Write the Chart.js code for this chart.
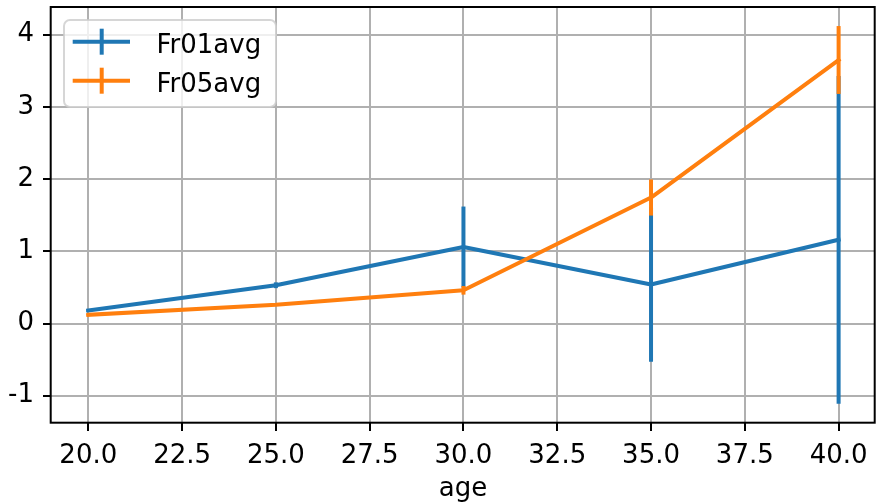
<!DOCTYPE html>
<html>
<head>
<meta charset="utf-8">
<script src="https://cdn.jsdelivr.net/npm/chart.js@4"></script>
<style>
  html, body { margin: 0; padding: 0; background: #ffffff; }
  canvas { display: block; }
</style>
</head>
<body>
<canvas id="c" width="876" height="503"></canvas>
<script>
// ---- data ----
const ages = [20, 25, 30, 35, 40];
const fr01Values = [0.18, 0.53, 1.06, 0.54, 1.16];
const fr01Errors = [0.02, 0.04, 0.56, 1.07, 2.27];
const fr05Values = [0.12, 0.26, 0.46, 1.745, 3.65];
const fr05Errors = [0.01, 0.01, 0.06, 0.25, 0.47];
const xTickValues = [20, 22.5, 25, 27.5, 30, 32.5, 35, 37.5, 40];
const yTickValues = [-1, 0, 1, 2, 3, 4];
const seriesNames = ['Fr01avg', 'Fr05avg'];
const xTitle = 'age';

const BLUE = '#1f77b4';
const ORANGE = '#ff7f0e';
const FONT = '"DejaVu Sans", sans-serif';
const FS = 26;

function toPoints(xs, ys) { return xs.map((x, i) => ({ x: x, y: ys[i] })); }

const errorsByDataset = [fr01Errors, fr05Errors];

const errorBarPlugin = {
  id: 'errorBars',
  afterDatasetDraw(chart, args) {
    const errs = errorsByDataset[args.index];
    if (!errs) return;
    const ds = chart.data.datasets[args.index];
    const xs = chart.scales.x, ys = chart.scales.y;
    const ctx = chart.ctx, ca = chart.chartArea;
    ctx.save();
    ctx.beginPath();
    ctx.rect(ca.left, ca.top, ca.right - ca.left, ca.bottom - ca.top);
    ctx.clip();
    ctx.strokeStyle = ds.borderColor;
    ctx.lineWidth = 4;
    ctx.lineCap = 'butt';
    ds.data.forEach((p, i) => {
      const px = xs.getPixelForValue(p.x);
      const y1 = ys.getPixelForValue(p.y - errs[i]);
      const y2 = ys.getPixelForValue(p.y + errs[i]);
      ctx.beginPath();
      ctx.moveTo(px, y1);
      ctx.lineTo(px, y2);
      ctx.stroke();
    });
    ctx.restore();
  }
};

const framePlugin = {
  id: 'frameAndLegend',
  afterDraw(chart) {
    const ctx = chart.ctx, ca = chart.chartArea;
    ctx.save();
    // spines
    ctx.strokeStyle = '#000000';
    ctx.lineWidth = 2;
    ctx.strokeRect(ca.left - 0.3, ca.top, ca.right - ca.left, ca.bottom - ca.top - 0.3);
    // legend box
    const bx = 64, by = 20, bw = 212, bh = 87, r = 6;
    ctx.beginPath();
    ctx.roundRect(bx, by, bw, bh, r);
    ctx.fillStyle = 'rgba(255,255,255,0.8)';
    ctx.fill();
    ctx.strokeStyle = 'rgba(204,204,204,0.8)';
    ctx.lineWidth = 2;
    ctx.stroke();
    const rows = [41.7, 80.7];
    const baselines = [53.3, 92.2];
    chart.data.datasets.forEach((ds, i) => {
      const cy = rows[i];
      ctx.strokeStyle = ds.borderColor;
      ctx.lineWidth = 4;
      ctx.lineCap = 'butt';
      ctx.beginPath();
      ctx.moveTo(72.7, cy);
      ctx.lineTo(130, cy);
      ctx.stroke();
      ctx.beginPath();
      ctx.moveTo(101.7, cy - 13);
      ctx.lineTo(101.7, cy + 13);
      ctx.stroke();
      ctx.fillStyle = '#000000';
      ctx.font = FS + 'px ' + FONT;
      ctx.textAlign = 'left';
      ctx.textBaseline = 'alphabetic';
      ctx.fillText(ds.label, 156.5, baselines[i]);
    });
    ctx.restore();
  }
};

function noScalePadding(scale) {
  scale.paddingTop = 0;
  scale.paddingBottom = 0;
  scale.paddingLeft = 0;
  scale.paddingRight = 0;
}

const chart = new Chart(document.getElementById('c'), {
  type: 'line',
  data: {
    datasets: [
      {
        label: seriesNames[0],
        data: toPoints(ages, fr01Values),
        borderColor: BLUE,
        backgroundColor: BLUE,
        borderWidth: 4,
        pointRadius: 0,
        tension: 0,
        borderCapStyle: 'square',
        borderJoinStyle: 'round',
        order: 1
      },
      {
        label: seriesNames[1],
        data: toPoints(ages, fr05Values),
        borderColor: ORANGE,
        backgroundColor: ORANGE,
        borderWidth: 4,
        pointRadius: 0,
        tension: 0,
        borderCapStyle: 'square',
        borderJoinStyle: 'round',
        order: 0
      }
    ]
  },
  options: {
    responsive: false,
    animation: false,
    devicePixelRatio: 1,
    layout: { padding: { left: 0, right: 1, top: 7, bottom: 0 } },
    plugins: { legend: { display: false }, tooltip: { enabled: false } },
    scales: {
      x: {
        type: 'linear',
        min: 19.006,
        max: 40.97,
        afterBuildTicks(scale) { scale.ticks = xTickValues.map(v => ({ value: v })); },
        afterFit(scale) { scale.height = 80; noScalePadding(scale); },
        border: { display: false },
        grid: {
          color: '#b0b0b0',
          lineWidth: 2,
          tickColor: '#000000',
          tickLength: 8,
          tickWidth: 2
        },
        ticks: {
          color: '#000000',
          font: { family: FONT, size: FS },
          padding: 10,
          maxRotation: 0,
          autoSkip: false,
          callback: v => Number(v).toFixed(1)
        },
        title: {
          display: true,
          text: xTitle,
          color: '#000000',
          font: { family: FONT, size: FS },
          padding: { top: 0, bottom: -2 }
        }
      },
      y: {
        type: 'linear',
        min: -1.378,
        max: 4.384,
        afterBuildTicks(scale) { scale.ticks = yTickValues.map(v => ({ value: v })); },
        afterFit(scale) { scale.width = 51; noScalePadding(scale); },
        border: { display: false },
        grid: {
          color: '#b0b0b0',
          lineWidth: 2,
          tickColor: '#000000',
          tickLength: 8,
          tickWidth: 2
        },
        ticks: {
          color: '#000000',
          font: { family: FONT, size: FS },
          padding: 9,
          autoSkip: false,
          callback: v => String(v)
        }
      }
    }
  },
  plugins: [errorBarPlugin, framePlugin]
});
</script>
</body>
</html>
